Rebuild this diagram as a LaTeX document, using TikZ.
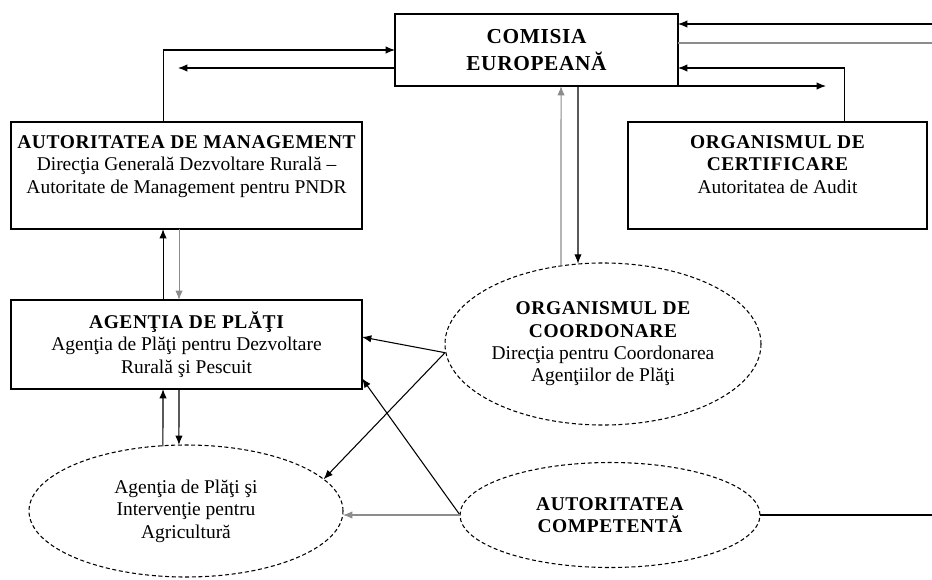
\documentclass[tikz,border=0pt]{standalone}
\usepackage{fontspec}
\setmainfont{Liberation Serif}
\usetikzlibrary{shapes.geometric,arrows.meta}
\tikzset{
  box/.style={draw,thick,rectangle,align=center,inner sep=0pt,outer sep=0pt},
  oval/.style={draw,ellipse,densely dashed,align=center,inner sep=0pt,outer sep=0pt},
  grayline/.style={draw=black!45}
}
\newcommand{\titlu}[1]{{\bfseries\addfontfeature{LetterSpace=3}#1}}

\begin{document}
\begin{tikzpicture}[x=0.75pt,y=-0.75pt,thick,>={Latex[length=7pt,width=5.5pt]},
  every node/.style={font=\fontsize{14.6}{16.8}\selectfont}]
  \useasboundingbox (0,0) rectangle (932,579);
  \node[box,minimum width=212.25pt,minimum height=54pt,font=\fontsize{16}{20}\selectfont] (ce) at (536.5,50)
    {\titlu{COMISIA}\\\titlu{EUROPEANĂ}};
  \node[box,minimum width=263.25pt,minimum height=80.25pt] (am) at (186.5,175.5)
    {\titlu{AUTORITATEA DE MANAGEMENT}\\Direcţia Generală Dezvoltare Rurală –\\Autoritate de Management pentru PNDR\\ };
  \node[box,minimum width=224.25pt,minimum height=80.25pt] (oc) at (777.5,175.5)
    {\titlu{ORGANISMUL DE}\\\titlu{CERTIFICARE}\\Autoritatea de Audit\\ };
  \node[box,minimum width=263.25pt,minimum height=66.75pt] (ap) at (186.5,344.5)
    {\titlu{AGENŢIA DE PLĂŢI}\\Agenţia de Plăţi pentru Dezvoltare\\Rurală şi Pescuit};
  \node[oval,minimum width=237pt,minimum height=121.5pt] (coord) at (603,344)
    {\titlu{ORGANISMUL DE}\\\titlu{COORDONARE}\\Direcţia pentru Coordonarea\\Agenţiilor de Plăţi};
  \node[oval,minimum width=225pt,minimum height=78.75pt] (ac) at (610,515)
    {\titlu{AUTORITATEA}\\\titlu{COMPETENTĂ}};
  \node[oval,minimum width=235.5pt,minimum height=99pt] (agri) at (186,511)
    {Agenţia de Plăţi şi\\Intervenţie pentru\\Agricultură};
  \coordinate (amin) at (178,68);
  \coordinate (ocin) at (826,86);
  \coordinate (outa) at (932,24);
  \coordinate (outb) at (932,43);
  \coordinate (outc) at (932,515);
  \draw[->] ([xshift=-17.6pt]am.north) |- (ce.west);
  \draw[->] ([yshift=-13.5pt]ce.west) -- (amin);
  \draw[->] ([xshift=-17.6pt]ap.north) -- ([xshift=-17.6pt]am.south);
  \draw[->,grayline] ([xshift=-5.6pt]am.south) -- ([xshift=-5.6pt]ap.north);
  \draw[->] ([xshift=-17.3pt,yshift=-1pt]agri.north) -- ([xshift=-17.6pt]ap.south);
  \draw[->] ([xshift=-5.6pt]ap.south) -- ([xshift=-5.3pt]agri.north);
  \draw[->,grayline] ([xshift=-31.5pt,yshift=-2pt]coord.north) -- ([xshift=18.4pt]ce.south);
  \draw[->] ([xshift=31.1pt]ce.south) -- ([xshift=-18.75pt,yshift=-0.5pt]coord.north);
  \draw[->] (outa) -- ([yshift=19.5pt]ce.east);
  \draw[grayline] ([yshift=5.25pt]ce.east) -- (outb);
  \draw[->] ([xshift=49.9pt]oc.north) |- ([yshift=-13.5pt]ce.east);
  \draw[->] (ce.south east) -- (ocin);
  \draw[->] ([yshift=-6.5pt]coord.west) -- ([yshift=5.6pt]ap.east);
  \draw[->] ([yshift=-6.5pt]coord.west) -- (agri.13);
  \draw[->] (ac.west) -- ([yshift=8pt]ap.south east);
  \draw[->,grayline] (ac.west) -- (ac.west -| agri.east);
  \draw (ac.east) -- (outc);
\end{tikzpicture}
\end{document}
